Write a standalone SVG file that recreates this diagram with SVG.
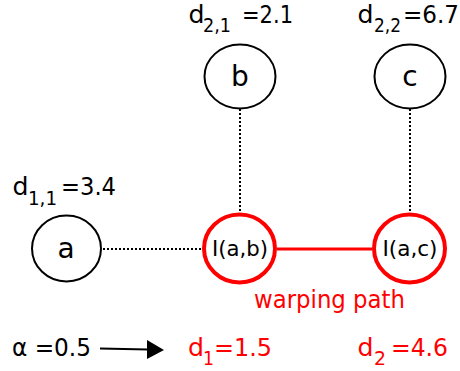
<svg xmlns="http://www.w3.org/2000/svg" width="460" height="371" viewBox="0 0 460 371">
<style>
text{font-family:"DejaVu Sans",sans-serif;}
.big{font-size:24px;}
.sub{font-size:19px;}
.node-t{font-size:28px;text-anchor:middle;}
.lbl{font-size:22px;text-anchor:middle;}
.red{fill:#ff0000;}
.node{fill:#fff;stroke:#000;stroke-width:2;}
.rnode{fill:#fff;stroke:#ff0000;stroke-width:4;}
.dot{stroke:#000;stroke-width:2;stroke-dasharray:2,2;fill:none;}
</style>
<g id="connectors">
<line class="dot" x1="240" y1="109" x2="240" y2="213"/>
<line class="dot" x1="410" y1="109" x2="410" y2="213"/>
<line class="dot" x1="103" y1="249" x2="203" y2="249"/>
<line x1="277" y1="249" x2="372" y2="249" stroke="#ff0000" stroke-width="3"/>
<line x1="100" y1="348.5" x2="148" y2="349.5" stroke="#000" stroke-width="2"/>
<path d="M147,340 L164,350 L147,359 z" fill="#000"/>
</g>
<g id="node-a">
<ellipse class="node" cx="66.5" cy="248.5" rx="34.5" ry="33"/>
<text class="node-t" x="66" y="258">a</text>
</g>
<g id="node-b">
<ellipse class="node" cx="240" cy="76.5" rx="35.5" ry="32"/>
<text class="node-t" x="240" y="86">b</text>
</g>
<g id="node-c">
<ellipse class="node" cx="410" cy="76.5" rx="35.5" ry="32"/>
<text class="node-t" x="410" y="86">c</text>
</g>
<g id="node-iab">
<ellipse class="rnode" cx="239.5" cy="248.5" rx="35.5" ry="34"/>
<text class="lbl" x="240" y="256" textLength="56" lengthAdjust="spacingAndGlyphs">I(a,b)</text>
</g>
<g id="node-iac">
<ellipse class="rnode" cx="409.5" cy="248.5" rx="35.5" ry="34"/>
<text class="lbl" x="410" y="256" textLength="55" lengthAdjust="spacingAndGlyphs">I(a,c)</text>
</g>
<g id="labels">
<text class="big" x="188.5" y="23" textLength="16" lengthAdjust="spacingAndGlyphs">d</text><text class="sub" x="203" y="32" textLength="28" lengthAdjust="spacingAndGlyphs">2,1</text><text class="big" x="242" y="23" textLength="51" lengthAdjust="spacingAndGlyphs">=2.1</text>
<text class="big" x="357.5" y="23" textLength="16" lengthAdjust="spacingAndGlyphs">d</text><text class="sub" x="374" y="32" textLength="27" lengthAdjust="spacingAndGlyphs">2,2</text><text class="big" x="403" y="23" textLength="56" lengthAdjust="spacingAndGlyphs">=6.7</text>
<text class="big" x="12.5" y="195" textLength="16" lengthAdjust="spacingAndGlyphs">d</text><text class="sub" x="28" y="205" textLength="29" lengthAdjust="spacingAndGlyphs">1,1</text><text class="big" x="61" y="195" textLength="55" lengthAdjust="spacingAndGlyphs">=3.4</text>
<text class="red" x="254" y="308" font-size="24" textLength="151" lengthAdjust="spacingAndGlyphs">warping path</text>
<text class="big" x="12" y="356" textLength="79" lengthAdjust="spacingAndGlyphs">α =0.5</text>
<text class="big red" x="188" y="356" textLength="16" lengthAdjust="spacingAndGlyphs">d</text><text class="sub red" x="203" y="365" textLength="11" lengthAdjust="spacingAndGlyphs">1</text><text class="big red" x="214" y="356" textLength="58" lengthAdjust="spacingAndGlyphs">=1.5</text>
<text class="big red" x="357.5" y="356" textLength="16" lengthAdjust="spacingAndGlyphs">d</text><text class="sub red" x="374" y="365" textLength="12" lengthAdjust="spacingAndGlyphs">2</text><text class="big red" x="391" y="356" textLength="57" lengthAdjust="spacingAndGlyphs">=4.6</text>
</g>
</svg>
